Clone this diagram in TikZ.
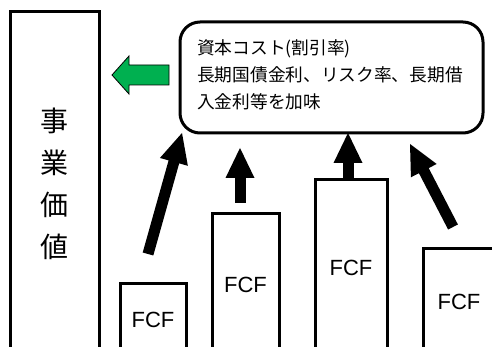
\documentclass[tikz,border=0pt]{standalone}
\usepackage{fontspec}
\setmainfont{Noto Sans CJK JP}
\newfontfamily\latinfont{Liberation Sans}
\usetikzlibrary{calc}
\definecolor{arrowgreen}{RGB}{0,176,80}
\newcommand\myfatarrow[2]{%
  \coordinate (fa-b) at ($(#2)!30pt!(#1)$);
  \draw[line width=11pt] (#1) -- ($(#2)!28pt!(#1)$);
  \fill ($(fa-b)!14.5pt!90:(#2)$) -- (#2) -- ($(fa-b)!14.5pt!-90:(#2)$) -- cycle;}
\begin{document}
\begin{tikzpicture}[x=1pt,y=-1pt,
  box/.style={draw, line width=3pt, inner sep=0pt},
  fcf/.style={box, font=\latinfont\fontsize{22}{26}\selectfont}]
\useasboundingbox (0,0) rectangle (492,347);
\fill[white] (0,0) rectangle (492,347);
\clip (0,0) rectangle (492,347);
% tall left box
\node[box, minimum width=89pt, minimum height=344pt, align=center,
  font=\fontsize{28}{42}\selectfont] (value) at (54.5,184) {事\\業\\価\\値};
% FCF boxes
\node[fcf, minimum width=66pt, minimum height=73pt] (f1) at (153,319.5) {FCF};
\node[fcf, minimum width=67pt, minimum height=142pt] (f2) at (245.5,285) {FCF};
\node[fcf, minimum width=72pt, minimum height=176pt] (f3) at (351,268) {FCF};
\node[fcf, minimum width=72pt, minimum height=108pt] (f4) at (459,302) {FCF};
% rounded box
\node[box, rounded corners=20pt, minimum width=303pt, minimum height=111pt] (cost) at (331.5,77.5) {};
\node[anchor=west, align=left, inner sep=0pt, font=\fontsize{17.7}{27}\selectfont] (costtext) at (197,75)
  {資本コスト(割引率)\\長期国債金利、リスク率、長期借\\入金利等を加味};
% green arrow
\draw[fill=arrowgreen, line width=0.8pt] (112,75) -- (129,56) -- (129,65) -- (169,65) -- (169,85) -- (129,85) -- (129,94) -- cycle;
% black arrows
\coordinate (t1) at (148,254); \coordinate (h1) at (182,133);
\coordinate (t2) at (240,203); \coordinate (h2) at (240,148);
\coordinate (t3) at (348,180); \coordinate (h3) at (348,133);
\coordinate (t4) at (453,227); \coordinate (h4) at (410,144);
\myfatarrow{t1}{h1}
\myfatarrow{t2}{h2}
\myfatarrow{t3}{h3}
\myfatarrow{t4}{h4}
\end{tikzpicture}
\end{document}
